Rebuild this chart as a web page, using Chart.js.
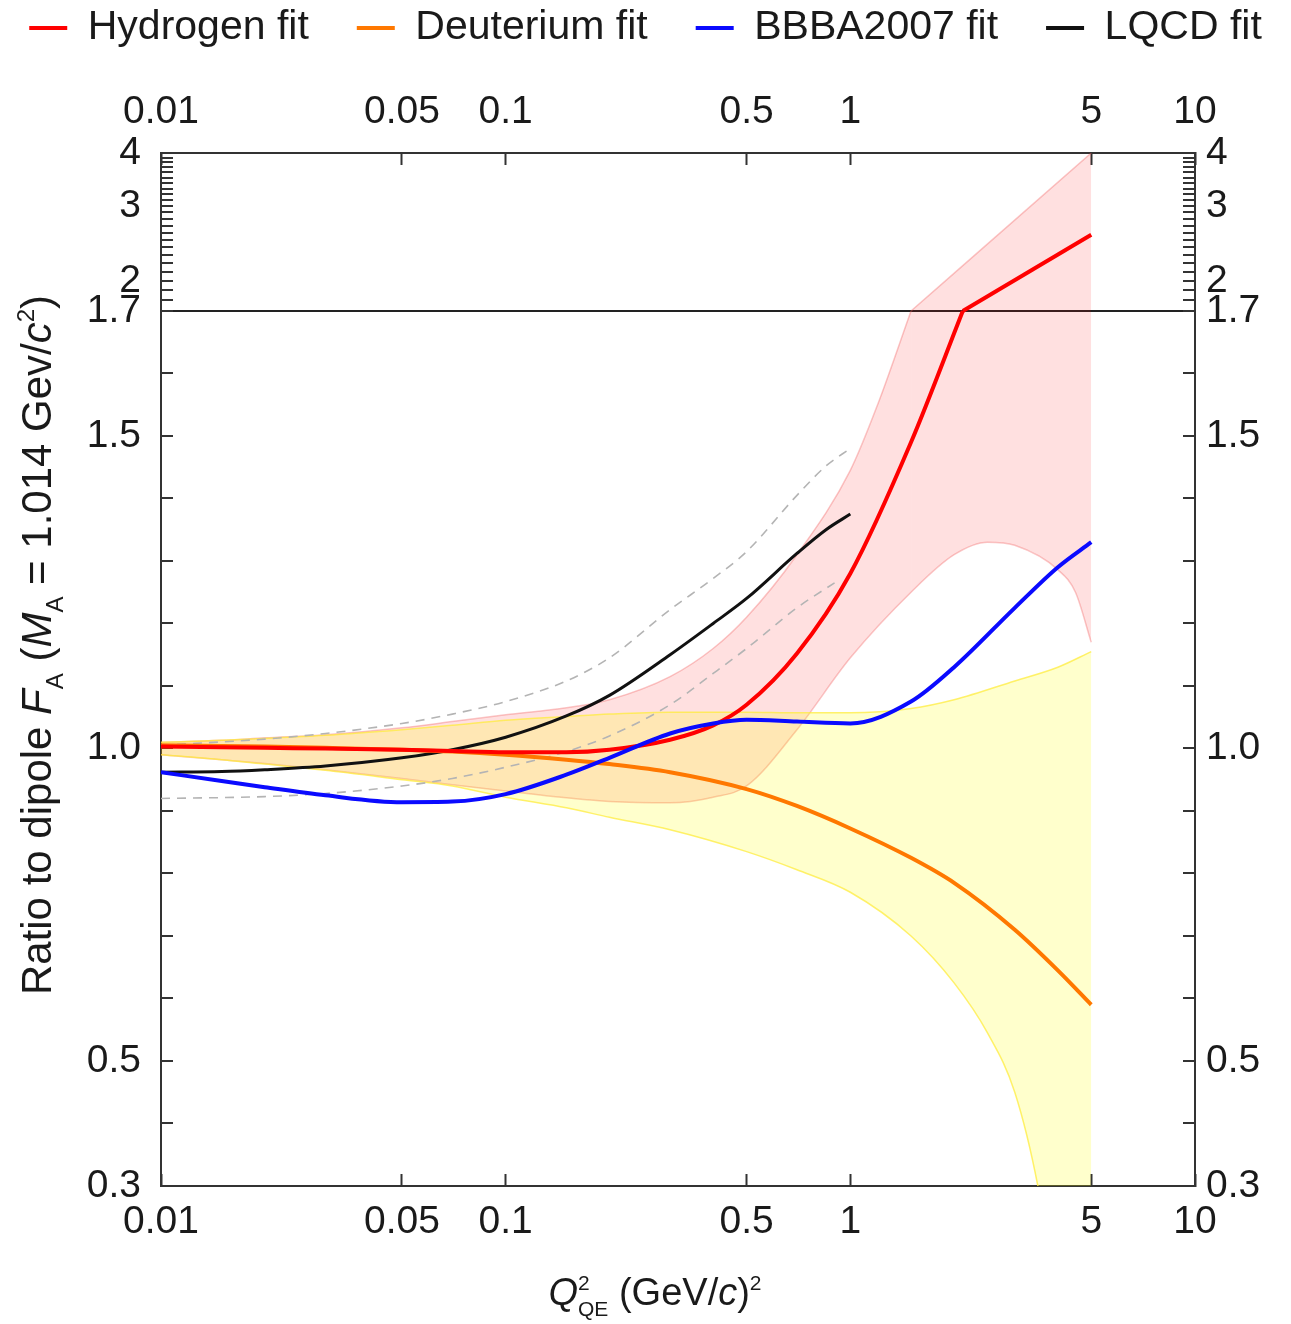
<!DOCTYPE html>
<html>
<head>
<meta charset="utf-8">
<script src="https://cdn.jsdelivr.net/npm/chart.js@4.4.1/dist/chart.umd.min.js"></script>
<style>
html,body{margin:0;padding:0;background:#fff;}
#wrap{width:1291px;height:1324px;}
</style>
</head>
<body>
<div id="wrap"><canvas id="c" width="1291" height="1324"></canvas></div>
<script>
// ---------------- DATA ----------------
const SERIES_NAMES = ['Hydrogen fit', 'Deuterium fit', 'BBBA2007 fit', 'LQCD fit'];

// Hydrogen fit (red), split at the axis break (kink at 1.7)
const H_X1 = [0.01,0.015,0.02,0.03,0.05,0.07,0.1,0.15,0.2,0.3,0.4,0.5,0.7,1.0,1.5,2.12];
const H_Y1 = [1.003,1.002,1.001,1.0,0.998,0.996,0.994,0.994,0.998,1.014,1.037,1.07,1.152,1.28,1.49,1.7];
const H_X2 = [2.12, 5];
const H_Y2 = [1.7, 2.57];

// Hydrogen uncertainty band (pink)
const HB_UP_X1 = [0.01,0.015,0.02,0.03,0.05,0.07,0.1,0.15,0.2,0.3,0.4,0.5,0.7,1.0,1.2,1.5];
const HB_UP_Y1 = [1.01,1.013,1.017,1.022,1.033,1.043,1.054,1.065,1.078,1.115,1.16,1.21,1.31,1.445,1.55,1.7];
const HB_UP_X2 = [1.5, 5];
const HB_UP_Y2 = [1.7, 4.0];
const HB_LO_X = [0.01,0.015,0.02,0.03,0.05,0.07,0.1,0.15,0.2,0.3,0.4,0.5,0.7,1.0,1.5,2.0,2.5,3.0,4.0,4.5,5.0];
const HB_LO_Y = [0.99,0.982,0.976,0.966,0.952,0.942,0.932,0.921,0.915,0.913,0.922,0.94,1.03,1.145,1.25,1.31,1.33,1.325,1.286,1.25,1.17];

// Deuterium fit (orange)
const D_X = [0.01,0.015,0.02,0.03,0.05,0.07,0.1,0.15,0.2,0.3,0.5,0.7,1.0,1.5,2.0,3.0,4.0,5.0];
const D_Y = [1.005,1.004,1.003,1.001,0.998,0.995,0.99,0.982,0.975,0.962,0.935,0.908,0.872,0.825,0.785,0.71,0.645,0.59];

// Deuterium uncertainty band (yellow)
const DB_UP_X = [0.01,0.015,0.02,0.03,0.05,0.07,0.1,0.15,0.2,0.3,0.5,0.7,1.0,1.5,2.0,3.0,4.0,5.0];
const DB_UP_Y = [1.01,1.013,1.016,1.021,1.03,1.037,1.045,1.051,1.055,1.058,1.058,1.057,1.057,1.064,1.078,1.108,1.13,1.155];
const DB_LO_X = [0.01,0.015,0.02,0.03,0.05,0.07,0.1,0.15,0.2,0.3,0.5,0.7,1.0,1.5,2.0,2.5,3.0,3.5,4.0,5.0];
const DB_LO_Y = [0.99,0.982,0.975,0.965,0.95,0.94,0.922,0.905,0.89,0.87,0.835,0.806,0.77,0.7,0.625,0.545,0.45,0.3,0.1,-0.3];

// BBBA2007 fit (blue)
const B_X = [0.01,0.015,0.02,0.03,0.05,0.07,0.1,0.15,0.2,0.3,0.4,0.5,0.7,1.0,1.5,2.0,3.0,4.0,5.0];
const B_Y = [0.962,0.948,0.938,0.925,0.914,0.915,0.927,0.958,0.985,1.024,1.04,1.046,1.043,1.04,1.075,1.13,1.225,1.29,1.33];

// LQCD fit (black) and its uncertainty (grey dashed)
const L_X = [0.01,0.015,0.02,0.03,0.05,0.07,0.1,0.15,0.2,0.3,0.4,0.5,0.7,0.85,1.0];
const L_Y = [0.962,0.963,0.966,0.972,0.985,0.998,1.018,1.052,1.085,1.15,1.2,1.24,1.312,1.35,1.375];
const LU_X = [0.01,0.02,0.03,0.05,0.07,0.1,0.15,0.2,0.3,0.4,0.5,0.7,0.85,1.0];
const LU_Y = [1.005,1.015,1.024,1.04,1.055,1.075,1.108,1.145,1.222,1.272,1.315,1.405,1.452,1.48];
const LL_X = [0.01,0.02,0.03,0.05,0.07,0.1,0.15,0.2,0.3,0.4,0.5,0.7,0.9];
const LL_Y = [0.92,0.923,0.928,0.94,0.952,0.97,0.995,1.02,1.07,1.12,1.16,1.225,1.265];

// Axes
const X_TICKS = [0.01, 0.05, 0.1, 0.5, 1, 5, 10];
const X_TICK_LABELS = ['0.01', '0.05', '0.1', '0.5', '1', '5', '10'];
const Y_LABEL_VALUES = [0.3, 0.5, 1.0, 1.5, 1.7, 2, 3, 4];
const Y_LABELS = ['0.3', '0.5', '1.0', '1.5', '1.7', '2', '3', '4'];
const Y_MIN = 0.3, Y_MAX = 4.0, Y_BREAK = 1.7, Y_STEP = 0.1;
const X_MIN = 0.01, X_MAX = 10;

const X_TITLE = [
  {t:'Q', it:true}, {t:'2', sup:true}, {t:'QE', sub:true, stack:true},
  {t:' (GeV/'}, {t:'c', it:true}, {t:')'}, {t:'2', sup:true}
];
const Y_TITLE = [
  {t:'Ratio to dipole '}, {t:'F', it:true}, {t:'A', sub:true}, {t:' ('},
  {t:'M', it:true}, {t:'A', sub:true}, {t:' = 1.014 Gev/'}, {t:'c', it:true},
  {t:'2', sup:true}, {t:')'}
];

// ---------------- SETUP ----------------
const FONT = '"Liberation Sans", Arial, Helvetica, sans-serif';
const pts = (xs, ys) => xs.map((x, i) => ({x: x, y: ys[i]}));

// Y scale: linear up to the break, logarithmic above it
const LOG_K = 0.68;
class BrokenScale extends Chart.LinearScale {
  _tf(v) { return v <= Y_BREAK ? v : Y_BREAK + Math.log10(v / Y_BREAK) * LOG_K; }
  _inv(t) { return t <= Y_BREAK ? t : Y_BREAK * Math.pow(10, (t - Y_BREAK) / LOG_K); }
  getPixelForValue(value) {
    if (value === null || value === undefined || isNaN(value)) return NaN;
    const t0 = this._tf(this.min), t1 = this._tf(this.max);
    return this.getPixelForDecimal((this._tf(value) - t0) / (t1 - t0));
  }
  getValueForPixel(pixel) {
    const t0 = this._tf(this.min), t1 = this._tf(this.max);
    return this._inv(t0 + this.getDecimalForPixel(pixel) * (t1 - t0));
  }
}
BrokenScale.id = 'broken';
BrokenScale.defaults = Chart.LinearScale.defaults;
Chart.register(BrokenScale);

const Y_TICK_VALUES = [];
for (let v = Y_MIN; v <= Y_MAX + 1e-9; v += Y_STEP) Y_TICK_VALUES.push(Math.round(v * 10) / 10);

function yLabel(v) {
  const i = Y_LABEL_VALUES.findIndex(u => Math.abs(u - v) < 1e-6);
  return i >= 0 ? Y_LABELS[i] : '';
}
function xLabel(v) {
  const i = X_TICKS.findIndex(u => Math.abs(Math.log10(u) - Math.log10(v)) < 1e-6);
  return i >= 0 ? X_TICK_LABELS[i] : '';
}

const LEGEND_FONT = 41, LEGEND_PAD = 48;
const PAD_TOP = 28 - LEGEND_FONT / 2 - LEGEND_PAD;
const PAD_SIDE = -30;
const PLOT_TOP = 153, PLOT_BOTTOM = 1186, PLOT_LEFT = 161, PLOT_RIGHT = 1195;
const W = 1291, H = 1324;

const tickFont = {family: FONT, size: 39};
const AX = '#333';

function xScale(position) {
  return {
    type: 'logarithmic', position: position, min: X_MIN, max: X_MAX,
    afterBuildTicks: s => { s.ticks = X_TICKS.map(v => ({value: v})); },
    afterFit: s => {
      if (position === 'bottom') s.height = H - PLOT_BOTTOM;
      else { const lg = s.chart.legend; s.height = PLOT_TOP - (PAD_TOP + (lg ? lg.height : 0)); }
    },
    border: {display: true, color: AX, width: 2},
    grid: {drawOnChartArea: false, drawTicks: true, tickLength: -12, tickColor: AX, tickWidth: 2, color: AX},
    ticks: {autoSkip: false, maxRotation: 0, font: tickFont, color: '#1a1a1a',
            padding: position === 'bottom' ? 25 : 29, callback: v => xLabel(v)}
  };
}
function yScale(position) {
  return {
    type: 'broken', position: position, min: Y_MIN, max: Y_MAX,
    afterBuildTicks: s => { s.ticks = Y_TICK_VALUES.map(v => ({value: v})); },
    afterFit: s => { s.width = (position === 'left' ? PLOT_LEFT : W - PLOT_RIGHT) - PAD_SIDE; },
    border: {display: true, color: AX, width: 2},
    grid: {
      drawOnChartArea: position === 'left', drawTicks: true, tickLength: -12,
      tickColor: AX, tickWidth: 2,
      color: c => (c.tick && Math.abs(c.tick.value - Y_BREAK) < 1e-6) ? '#222' : 'rgba(0,0,0,0)',
      lineWidth: 2
    },
    ticks: {autoSkip: false, font: tickFont, color: '#1a1a1a',
            padding: position === 'left' ? 32 : 23, callback: v => yLabel(v)}
  };
}

function layoutRich(ctx, parts, size) {
  let x = 0, lastStart = 0, lastW = 0;
  const out = [];
  for (const p of parts) {
    const small = p.sub || p.sup;
    const fs = small ? Math.round(size * 0.56) : size;
    const font = (p.it ? 'italic ' : '') + fs + 'px ' + FONT;
    ctx.font = font;
    const w = ctx.measureText(p.t).width;
    let px;
    if (p.stack) { px = lastStart; x = lastStart + Math.max(lastW, w); }
    else { px = x; x += w; lastStart = px; lastW = w; }
    const dy = p.sup ? -size * 0.4 : (p.sub ? size * 0.28 : 0);
    out.push({t: p.t, font: font, x: px, dy: dy});
  }
  return {items: out, width: x};
}
function drawRich(ctx, parts, cx, baseY, size) {
  const L = layoutRich(ctx, parts, size);
  const x0 = cx - L.width / 2;
  ctx.textAlign = 'left';
  ctx.textBaseline = 'alphabetic';
  for (const it of L.items) { ctx.font = it.font; ctx.fillText(it.t, x0 + it.x, baseY + it.dy); }
}
const titlePlugin = {
  id: 'richTitles',
  afterDraw(chart) {
    const ctx = chart.ctx;
    ctx.save();
    ctx.fillStyle = '#1a1a1a';
    drawRich(ctx, X_TITLE, 655, 1305, 38);
    ctx.translate(51, 645);
    ctx.rotate(-Math.PI / 2);
    drawRich(ctx, Y_TITLE, 0, 0, 42);
    ctx.restore();
  }
};

const PINK_FILL = 'rgba(255,0,0,0.12)', PINK_EDGE = 'rgba(240,90,90,0.35)';
const YEL_FILL = 'rgba(255,255,0,0.2)', YEL_EDGE = 'rgba(255,236,60,0.75)';
const mono = {cubicInterpolationMode: 'monotone', pointRadius: 0, pointHoverRadius: 0};

const datasets = [
  // 0..3 : legend series
  Object.assign({label: SERIES_NAMES[0], data: pts(H_X1, H_Y1), borderColor: '#ff0000', backgroundColor: '#ff0000',
    borderWidth: 4, fill: false, order: 2, showInLegend: true}, mono),
  Object.assign({label: SERIES_NAMES[1], data: pts(D_X, D_Y), borderColor: '#ff7800', backgroundColor: '#ff7800',
    borderWidth: 4, fill: false, order: 3, showInLegend: true}, mono),
  Object.assign({label: SERIES_NAMES[2], data: pts(B_X, B_Y), borderColor: '#0a0aff', backgroundColor: '#0a0aff',
    borderWidth: 4, fill: false, order: 1, showInLegend: true}, mono),
  Object.assign({label: SERIES_NAMES[3], data: pts(L_X, L_Y), borderColor: '#111111', backgroundColor: '#111111',
    borderWidth: 3, fill: false, order: 4, showInLegend: true}, mono),
  // 4 : hydrogen above the break
  Object.assign({label: 'Hydrogen fit (above 1.7)', data: pts(H_X2, H_Y2), borderColor: '#ff0000',
    borderWidth: 4, fill: false, order: 2}, mono),
  // 5 : hydrogen band lower edge
  Object.assign({label: 'Hydrogen band low', data: pts(HB_LO_X, HB_LO_Y), borderColor: PINK_EDGE,
    borderWidth: 1.5, fill: false, order: 10}, mono),
  // 6,7 : hydrogen band upper edge (two pieces), filled to lower edge
  Object.assign({label: 'Hydrogen band high', data: pts(HB_UP_X1, HB_UP_Y1), borderColor: PINK_EDGE,
    backgroundColor: PINK_FILL, borderWidth: 1.5, fill: 5, order: 10}, mono),
  Object.assign({label: 'Hydrogen band high 2', data: pts(HB_UP_X2, HB_UP_Y2), borderColor: PINK_EDGE,
    backgroundColor: PINK_FILL, borderWidth: 1.5, fill: 5, order: 10}, mono),
  // 8,9 : deuterium band
  Object.assign({label: 'Deuterium band low', data: pts(DB_LO_X, DB_LO_Y), borderColor: YEL_EDGE,
    borderWidth: 1.5, fill: false, order: 9}, mono),
  Object.assign({label: 'Deuterium band high', data: pts(DB_UP_X, DB_UP_Y), borderColor: YEL_EDGE,
    backgroundColor: YEL_FILL, borderWidth: 1.5, fill: 8, order: 9}, mono),
  // 10,11 : LQCD uncertainty
  Object.assign({label: 'LQCD high', data: pts(LU_X, LU_Y), borderColor: '#b4b4b4',
    borderWidth: 1.6, borderDash: [9, 7], fill: false, order: 8}, mono),
  Object.assign({label: 'LQCD low', data: pts(LL_X, LL_Y), borderColor: '#b4b4b4',
    borderWidth: 1.6, borderDash: [9, 7], fill: false, order: 8}, mono)
];

new Chart(document.getElementById('c'), {
  type: 'line',
  data: {datasets: datasets},
  options: {
    responsive: false,
    animation: false,
    devicePixelRatio: 1,
    events: [],
    layout: {padding: {top: PAD_TOP, left: PAD_SIDE, right: PAD_SIDE, bottom: 0}},
    scales: {
      x: xScale('bottom'),
      x2: xScale('top'),
      y: yScale('left'),
      y2: yScale('right')
    },
    plugins: {
      tooltip: {enabled: false},
      title: {display: false},
      legend: {
        display: true, position: 'top', align: 'center',
        labels: {
          font: {family: FONT, size: LEGEND_FONT}, color: '#1a1a1a',
          boxWidth: 38, boxHeight: 4, padding: LEGEND_PAD,
          filter: (item, data) => !!data.datasets[item.datasetIndex].showInLegend,
          sort: (a, b) => a.datasetIndex - b.datasetIndex,
          generateLabels: chart => Chart.defaults.plugins.legend.labels.generateLabels(chart)
            .map(i => Object.assign(i, {lineWidth: 0, fillStyle: i.strokeStyle}))
        }
      }
    }
  },
  plugins: [titlePlugin]
});
</script>
</body>
</html>
